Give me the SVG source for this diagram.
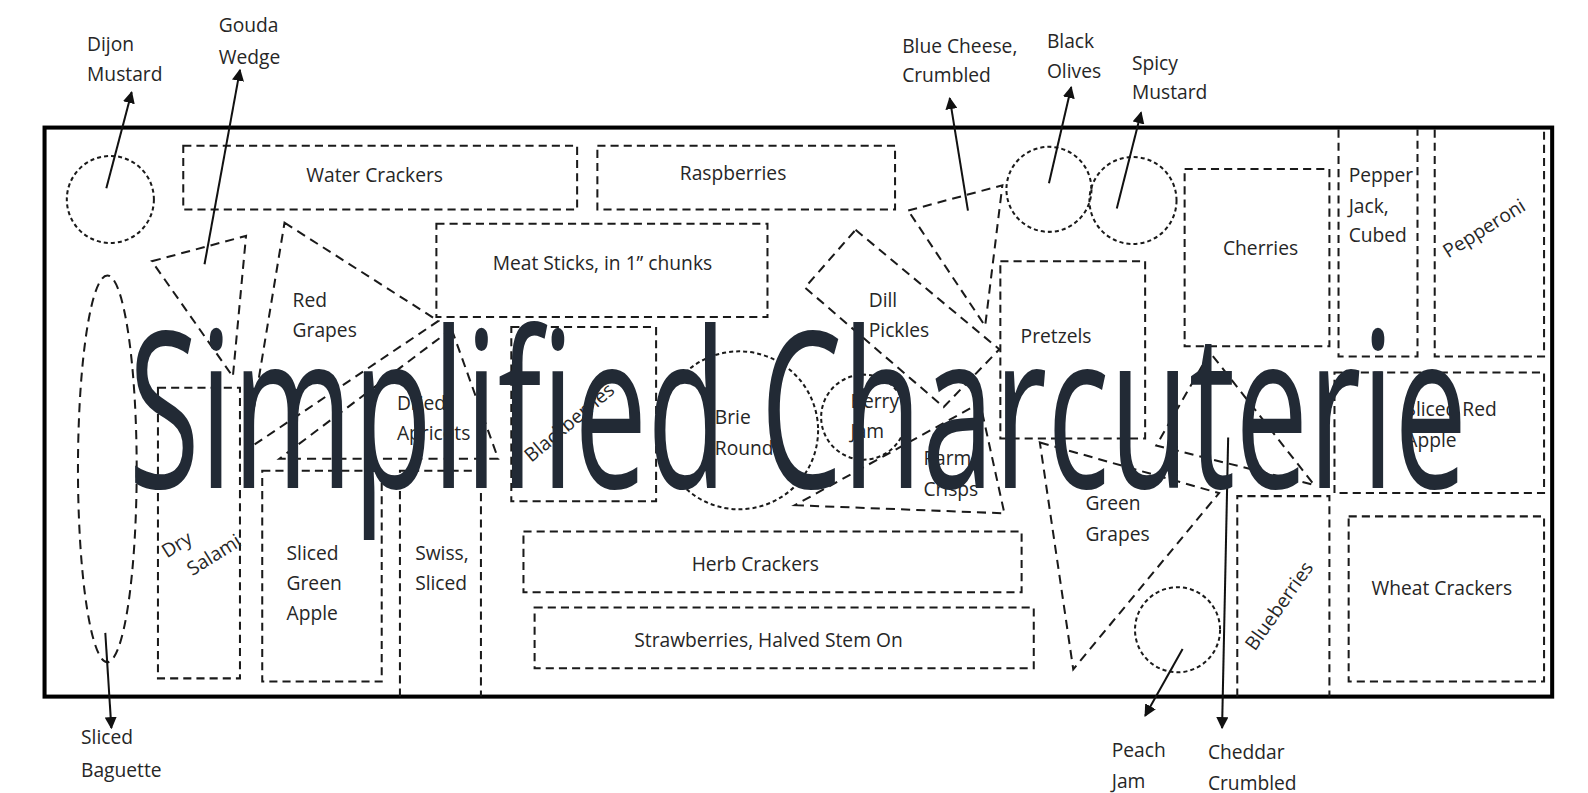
<svg xmlns="http://www.w3.org/2000/svg" width="1588" height="793" viewBox="0 0 1588 793">
<defs>
<marker id="ah" viewBox="0 0 10 10" refX="9" refY="5" markerWidth="6" markerHeight="6" orient="auto" markerUnits="strokeWidth">
<path d="M0,0 L10,5 L0,10 z" fill="#111"/>
</marker>
</defs>
<style>
.d{fill:none;stroke:#1a1a1a;stroke-width:2;stroke-dasharray:8 5}
.c{fill:none;stroke:#1a1a1a;stroke-width:2;stroke-dasharray:4 3}
.t{fill:none;stroke:#1a1a1a;stroke-width:2;stroke-dasharray:9 6}
.lbl{font-family:"Open Sans","Liberation Sans",sans-serif;font-size:19px;fill:#262626}
.mid{text-anchor:middle}
.arr{stroke:#111;stroke-width:2;fill:none;marker-end:url(#ah)}
.title{font-family:"Open Sans","Liberation Sans",sans-serif;font-size:216px;fill:#222a35}
</style>
<rect x="0" y="0" width="1588" height="793" fill="#ffffff"/>
<g id="scene" transform="scale(1.0125)">
<rect id="board" x="44" y="126" width="1489" height="562" fill="none" stroke="#000" stroke-width="4"/>

<g id="dijon-mustard"><circle class="c" cx="109" cy="197" r="43"/><text class="lbl" x="86" y="50">Dijon</text><text class="lbl" x="86" y="80">Mustard</text></g>
<g id="gouda-wedge"><polygon class="t" points="150,258 243,233 230,372"/><text class="lbl" x="216" y="32">Gouda</text><text class="lbl" x="216" y="63">Wedge</text></g>
<g id="sliced-baguette"><ellipse class="t" cx="106" cy="463" rx="29" ry="191"/><text class="lbl" x="80" y="735">Sliced</text><text class="lbl" x="80" y="767">Baguette</text></g>
<g id="water-crackers"><rect class="d" x="181" y="144" width="389" height="63"/><text class="lbl mid" x="370" y="180">Water Crackers</text></g>
<g id="raspberries"><rect class="d" x="590" y="144" width="294" height="63"/><text class="lbl mid" x="724" y="178">Raspberries</text></g>
<g id="meat-sticks"><rect class="d" x="431" y="221" width="327" height="92"/><text class="lbl mid" x="595" y="267">Meat Sticks, in 1” chunks</text></g>
<g id="red-grapes"><polygon class="t" points="281,220 433,317 244,444"/><text class="lbl" x="289" y="303">Red</text><text class="lbl" x="289" y="333">Grapes</text></g>
<g id="dried-apricots"><polygon class="t" points="446,325 276,453 492,453"/><text class="lbl" x="392" y="405">Dried</text><text class="lbl" x="392" y="435">Apricots</text></g>
<g id="dry-salami"><rect class="d" x="156" y="383" width="81" height="287"/><g transform="rotate(-32 193 540)"><text class="lbl" x="163" y="535">Dry</text><text class="lbl" x="175" y="563">Salami</text></g></g>
<g id="sliced-green-apple"><rect class="d" x="259" y="465" width="118" height="208"/><text class="lbl" x="283" y="553">Sliced</text><text class="lbl" x="283" y="583">Green</text><text class="lbl" x="283" y="612">Apple</text></g>
<g id="swiss-sliced"><path class="d" d="M395,688 V465 H475 V688"/><text class="lbl" x="410" y="553">Swiss,</text><text class="lbl" x="410" y="583">Sliced</text></g>
<g id="blackberries"><rect class="d" x="505" y="323" width="143" height="172"/><text class="lbl mid" x="562" y="424" transform="rotate(-40 562 417)">Blackberries</text></g>
<g id="brie-round"><circle class="c" cx="730" cy="425" r="78"/><text class="lbl" x="706" y="419">Brie</text><text class="lbl" x="706" y="449">Round</text></g>
<g id="berry-jam"><circle class="c" cx="853" cy="412" r="42"/><text class="lbl" x="840" y="403">Berry</text><text class="lbl" x="840" y="433">Jam</text></g>
<g id="dill-pickles"><polygon class="t" points="845,227 987,345 932,402 795,284"/><text class="lbl" x="858" y="303">Dill</text><text class="lbl" x="858" y="333">Pickles</text></g>
<g id="parm-crisps"><polygon class="t" points="785,499 992,507 968,398"/><text class="lbl" x="912" y="459">Parm</text><text class="lbl" x="912" y="490">Crisps</text></g>
<g id="blue-cheese"><polygon class="t" points="897,208 990,183 973,322"/><text class="lbl" x="891" y="52">Blue Cheese,</text><text class="lbl" x="891" y="81">Crumbled</text></g>
<g id="black-olives"><circle class="c" cx="1036" cy="187" r="42"/><text class="lbl" x="1034" y="47">Black</text><text class="lbl" x="1034" y="77">Olives</text></g>
<g id="spicy-mustard"><circle class="c" cx="1119" cy="198" r="43"/><text class="lbl" x="1118" y="69">Spicy</text><text class="lbl" x="1118" y="98">Mustard</text></g>
<g id="pretzels"><rect class="d" x="988" y="258" width="143" height="175"/><text class="lbl" x="1008" y="339">Pretzels</text></g>
<g id="cherries"><rect class="d" x="1170" y="167" width="143" height="175"/><text class="lbl mid" x="1245" y="252">Cherries</text></g>
<g id="pepper-jack"><path class="d" d="M1322,128 V352 H1400 V128"/><text class="lbl" x="1332" y="180">Pepper</text><text class="lbl" x="1332" y="210">Jack,</text><text class="lbl" x="1332" y="239">Cubed</text></g>
<g id="pepperoni"><path class="d" d="M1417,128 V352 H1525 V128"/><text class="lbl mid" x="1466" y="232" transform="rotate(-32 1466 226)">Pepperoni</text></g>
<g id="sliced-red-apple"><rect class="d" x="1318" y="368" width="207" height="119"/><text class="lbl" x="1388" y="411">Sliced Red</text><text class="lbl" x="1388" y="441">Apple</text></g>
<g id="wheat-crackers"><rect class="d" x="1332" y="510" width="193" height="163"/><text class="lbl mid" x="1424" y="588">Wheat Crackers</text></g>
<g id="blueberries"><path class="d" d="M1222,688 V490 H1313 V688"/><text class="lbl mid" x="1263" y="605" transform="rotate(-55 1263 598)">Blueberries</text></g>
<g id="cheddar-crumbled"><polygon class="t" points="1195,348 1142,440 1298,479"/><text class="lbl" x="1193" y="750">Cheddar</text><text class="lbl" x="1193" y="780">Crumbled</text></g>
<g id="green-grapes"><polygon class="t" points="1027,437 1204,487 1060,661"/><text class="lbl" x="1072" y="504">Green</text><text class="lbl" x="1072" y="534">Grapes</text></g>
<g id="peach-jam"><circle class="c" cx="1163" cy="622" r="42"/><text class="lbl" x="1098" y="748">Peach</text><text class="lbl" x="1098" y="778">Jam</text></g>
<g id="herb-crackers"><rect class="d" x="517" y="525" width="492" height="60"/><text class="lbl mid" x="746" y="564">Herb Crackers</text></g>
<g id="strawberries"><rect class="d" x="528" y="600" width="493" height="60"/><text class="lbl mid" x="759" y="639">Strawberries, Halved Stem On</text></g>

<g id="connectors">
<line class="arr" x1="105" y1="186" x2="130" y2="91"/>
<line class="arr" x1="202" y1="261" x2="237" y2="69"/>
<line class="arr" x1="956" y1="208" x2="938" y2="97"/>
<line class="arr" x1="1036" y1="181" x2="1058" y2="86"/>
<line class="arr" x1="1103" y1="206" x2="1127" y2="111"/>
<line class="arr" x1="104" y1="625" x2="110" y2="719"/>
<line class="arr" x1="1168" y1="641" x2="1131" y2="707"/>
<line class="arr" x1="1213" y1="432" x2="1207" y2="719"/>
</g>

<g id="title"><text class="title" x="127" y="482" textLength="1322" lengthAdjust="spacingAndGlyphs">Simplified Charcuterie</text></g>
</g>
</svg>
